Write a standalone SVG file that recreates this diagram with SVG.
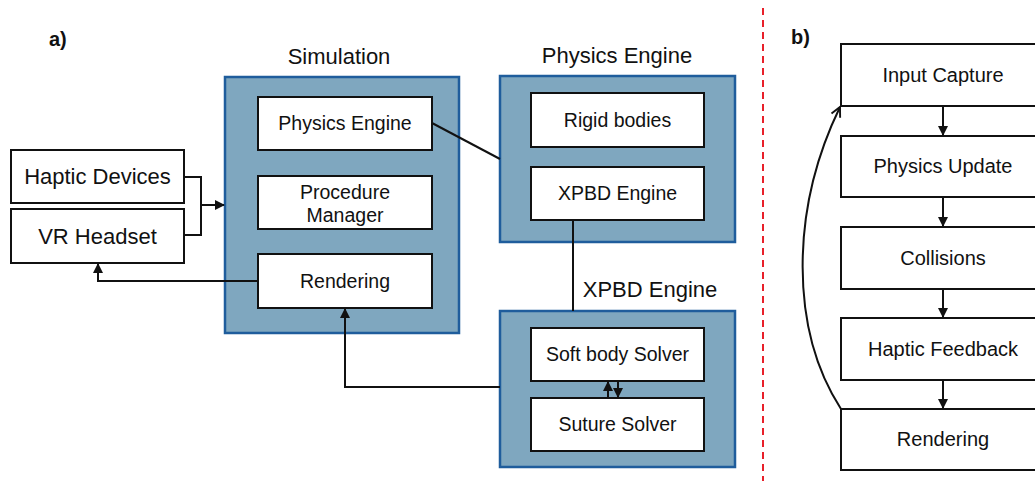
<svg xmlns="http://www.w3.org/2000/svg" width="1035" height="481" viewBox="0 0 1035 481">
<style>
text{font-family:"Liberation Sans",Arial,sans-serif;fill:#111;text-anchor:middle}
.box{fill:#fff;stroke:#111;stroke-width:2}
.cont{fill:#7fa7bf;stroke:#1f5d9c;stroke-width:2.5}
.t22{font-size:22px}
.t20{font-size:20px}
.t19{font-size:19.5px}
.lab{font-size:20px;font-weight:bold;text-anchor:start}
.ln{fill:none;stroke:#111;stroke-width:2}
</style>
<defs>
<marker id="ah" viewBox="0 0 10 10" refX="9" refY="5" markerWidth="5" markerHeight="5" orient="auto-start-reverse" markerUnits="strokeWidth">
<path d="M0,0 L10,5 L0,10 Z" fill="#111"/>
</marker>
<marker id="oh" viewBox="0 0 10 10" refX="9" refY="5" markerWidth="6" markerHeight="6" orient="auto" markerUnits="strokeWidth">
<path d="M1,1 L9,5 L1,9" fill="none" stroke="#111" stroke-width="1.6"/>
</marker>
</defs>
<text class="lab" x="49" y="46">a)</text>
<text class="lab" x="791" y="44">b)</text>
<line x1="763" y1="8" x2="763" y2="481" stroke="#e8202a" stroke-width="2" stroke-dasharray="7,5"/>

<g id="simulation">
<text class="t22" x="339" y="64">Simulation</text>
<rect class="cont" x="225" y="77" width="234" height="256"/>
</g>
<g id="sim-physics-engine"><rect class="box" x="258" y="97" width="174" height="53"/><text class="t19" x="345" y="130">Physics Engine</text></g>
<g id="procedure-manager"><rect class="box" x="258" y="176" width="174" height="53"/><text class="t19" x="345" y="199">Procedure</text><text class="t19" x="345" y="222">Manager</text></g>
<g id="rendering"><rect class="box" x="258" y="254" width="174" height="54"/><text class="t19" x="345" y="288">Rendering</text></g>

<g id="physics-engine">
<text class="t22" x="617" y="63">Physics Engine</text>
<rect class="cont" x="500" y="76" width="235" height="166"/>
</g>
<g id="rigid-bodies"><rect class="box" x="531" y="93" width="173" height="54"/><text class="t19" x="617.5" y="127">Rigid bodies</text></g>
<g id="xpbd-engine-inner"><rect class="box" x="531" y="167" width="173" height="53"/><text class="t19" x="617.5" y="200">XPBD Engine</text></g>

<g id="xpbd-engine">
<text class="t22" x="650" y="297">XPBD Engine</text>
<rect class="cont" x="500" y="311" width="235" height="156"/>
</g>
<g id="soft-body-solver"><rect class="box" x="531" y="328" width="173" height="53"/><text class="t19" x="617.5" y="361">Soft body Solver</text></g>
<g id="suture-solver"><rect class="box" x="531" y="398" width="173" height="53"/><text class="t19" x="617.5" y="431">Suture Solver</text></g>

<g id="haptic-devices"><rect class="box" x="11" y="150" width="173" height="53"/><text class="t22" x="97.5" y="184">Haptic Devices</text></g>
<g id="vr-headset"><rect class="box" x="11" y="209" width="173" height="54"/><text class="t22" x="97.5" y="244">VR Headset</text></g>

<g id="input-capture"><rect class="box" x="841" y="44" width="204" height="62"/><text class="t20" x="943" y="82">Input Capture</text></g>
<g id="physics-update"><rect class="box" x="841" y="136" width="204" height="61"/><text class="t20" x="943" y="173">Physics Update</text></g>
<g id="collisions"><rect class="box" x="841" y="227" width="204" height="62"/><text class="t20" x="943" y="265">Collisions</text></g>
<g id="haptic-feedback"><rect class="box" x="841" y="318" width="204" height="62"/><text class="t20" x="943" y="356">Haptic Feedback</text></g>
<g id="rendering-b"><rect class="box" x="841" y="409" width="204" height="61"/><text class="t20" x="943" y="446">Rendering</text></g>

<g id="connectors">
<polyline class="ln" points="184,177 201,177 201,235 184,235"/>
<line class="ln" x1="201" y1="205" x2="224" y2="205" marker-end="url(#ah)"/>
<polyline class="ln" points="258,281 98,281 98,264" marker-end="url(#ah)"/>
<line class="ln" x1="432" y1="123" x2="500" y2="159"/>
<line class="ln" x1="573" y1="220" x2="573" y2="311"/>
<polyline class="ln" points="500,387 345,387 345,309" marker-end="url(#ah)"/>
<line class="ln" x1="608" y1="398" x2="608" y2="382" marker-end="url(#ah)"/>
<line class="ln" x1="618" y1="381" x2="618" y2="397" marker-end="url(#ah)"/>
<line class="ln" x1="943" y1="106" x2="943" y2="135" marker-end="url(#ah)"/>
<line class="ln" x1="943" y1="197" x2="943" y2="226" marker-end="url(#ah)"/>
<line class="ln" x1="943" y1="289" x2="943" y2="317" marker-end="url(#ah)"/>
<line class="ln" x1="943" y1="380" x2="943" y2="408" marker-end="url(#ah)"/>
<path class="ln" d="M841,409 C790,330 790,210 840,107" marker-end="url(#oh)"/>
</g>
</svg>
